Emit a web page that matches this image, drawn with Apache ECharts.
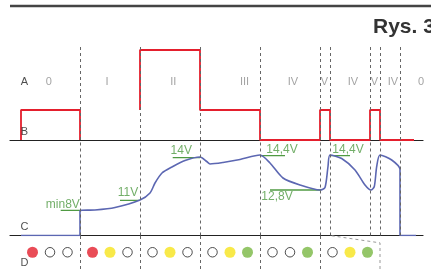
<!DOCTYPE html>
<html>
<head>
<meta charset="utf-8">
<script src="https://cdn.jsdelivr.net/npm/echarts@6/dist/echarts.min.js"></script>
<style>
  html, body { margin: 0; padding: 0; background: #fff; }
  #main { width: 431px; height: 269px; }
</style>
</head>
<body>
<div id="main"></div>
<script>
var chartDom = document.getElementById('main');
var myChart = echarts.init(chartDom);
var option;

// time axis (arbitrary units), phase boundaries and names
var phaseBounds = [60, 120, 180, 240, 300, 310, 350, 360, 380];
var phaseNames = ['0', 'I', 'II', 'III', 'IV', 'V', 'IV', 'V', 'IV', '0'];
var phaseNameX = [28.7, 87, 153.3, 224.5, 273, 304.5, 333, 354.5, 373, 401];

// row B: signal level
var signalB1 = [[1, 0], [1, 1], [60, 1], [60, 0]];
var signalB2 = [[120, 1], [120, 3], [180, 3], [180, 1], [240, 1], [240, 0], [300, 0], [300, 1],
  [310, 1], [310, 0], [350, 0], [350, 1], [360, 1], [360, 0], [394, 0]];

// row C: voltage curve (schematic units)
var voltageC = [[1, 0], [60, 0], [60, 25], [75, 25.5], [95, 28], [120, 35.5], [130, 42.5], [135, 52.5],
  [142, 62.5], [152, 68.5], [165, 75], [180, 78.5], [186.7, 74], [190, 71.5], [203, 73], [220, 76],
  [240, 80.5], [250, 72.5], [263, 57.5], [280, 50.5], [300, 45.5], [305, 48], [308, 69], [310, 80.5],
  [321.7, 77], [335, 65.5], [345, 50.5], [351, 45.5], [354.3, 49], [356.7, 69], [360, 80.5],
  [371.7, 75.5], [380, 66], [380, 0], [396, 0]];

// green reference marks: [from, to, level] and [text, x, y]
var guideLines = [[40.7, 60, 25.2], [100, 120, 35.2], [152.7, 180, 77.8], [240, 265, 79.8], [250, 301, 45.5], [310, 330, 79.8]];
var guideLabels = [['min8V', 42.8, 30.5], ['11V', 108, 42.5], ['14V', 161.3, 85], ['14,4V', 262, 85.5], ['12,8V', 257, 38.8], ['14,4V', 328, 85.5]];

// row D: indicator lamps per group
var groupCenters = [30, 90, 150, 210, 270, 330];
var lampGroups = [['r', 'w', 'w'], ['r', 'y', 'w'], ['w', 'y', 'w'], ['w', 'y', 'g'], ['w', 'w', 'g'], ['w', 'y', 'g']];
var lampColors = { r: '#e41f2d', y: '#f6e31b', g: '#79b843', w: '#ffffff' };

var rowLetters = [['A', 4.5, 1.94, 0], ['B', 4.5, 0.27, 0], ['C', 4.5, 8.5, 1], ['D', 4.5, 0.18, 2]];

var tMin = -10, tMax = 403;
var red = '#e41f2d', blue = '#5c67b2', green = '#4f9a42';
var dash = { type: [3, 3], color: '#666', width: 1 };

function xAx(i, showLine) {
  return {
    gridIndex: i, type: 'value', min: tMin, max: tMax, position: 'bottom',
    axisLine: { show: showLine, onZero: false, lineStyle: { color: '#222', width: 1.2 } },
    axisTick: { show: false }, axisLabel: { show: false }, splitLine: { show: false }
  };
}
function yAx(i, max) {
  return { gridIndex: i, type: 'value', min: 0, max: max, show: false, splitLine: { show: false } };
}
function vlines(list) {
  return {
    symbol: 'none', silent: true, animation: false, label: { show: false },
    lineStyle: dash, data: list.map(function (b) { return { xAxis: b }; })
  };
}
function textSeries(i, data, style) {
  return {
    type: 'scatter', xAxisIndex: i, yAxisIndex: i, symbolSize: 1, silent: true,
    itemStyle: { color: 'rgba(0,0,0,0)' }, z: 5,
    label: Object.assign({ show: true, position: 'inside', formatter: function (p) { return p.data[2]; } }, style),
    data: data
  };
}

var lamps = [];
lampGroups.forEach(function (g, gi) {
  g.forEach(function (c, k) {
    lamps.push({
      value: [groupCenters[gi] + (k - 1) * 17.5, 0.5],
      symbolSize: c === 'w' ? 9.5 : 11,
      itemStyle: c === 'w' ? { color: '#fff', borderColor: '#222', borderWidth: 1 } : { color: lampColors[c] }
    });
  });
});

var series = [
  { type: 'line', xAxisIndex: 0, yAxisIndex: 0, data: [], markLine: vlines(phaseBounds), silent: true },
  { type: 'line', xAxisIndex: 1, yAxisIndex: 1, data: [], markLine: vlines(phaseBounds), silent: true },
  { type: 'line', xAxisIndex: 2, yAxisIndex: 2, data: [], markLine: vlines(phaseBounds.slice(0, 5)), silent: true },
  { type: 'line', xAxisIndex: 2, yAxisIndex: 2, data: [[360, 0], [360, 0.78], [310, 1]], symbol: 'none',
    lineStyle: { type: [3, 3], color: '#999', width: 1 } },
  { type: 'line', xAxisIndex: 0, yAxisIndex: 0, data: signalB1, symbol: 'none', z: 4, lineStyle: { color: red, width: 1.8 } },
  { type: 'line', xAxisIndex: 0, yAxisIndex: 0, data: signalB2, symbol: 'none', z: 4, lineStyle: { color: red, width: 1.8 } },
  { type: 'line', xAxisIndex: 1, yAxisIndex: 1, data: voltageC, symbol: 'none', smooth: 0.25, z: 4,
    lineStyle: { color: blue, width: 1.6 } },
  textSeries(0, phaseNames.map(function (n, i) { return [phaseNameX[i], 1.94, n]; }),
    { color: '#8c8c8c', fontSize: 11, fontFamily: 'Liberation Sans, Arial, sans-serif' }),
  textSeries(1, guideLabels.map(function (g) { return [g[1], g[2], g[0]]; }),
    { color: green, fontSize: 12, fontFamily: 'Liberation Sans Narrow, Arial Narrow, sans-serif' }),
  { type: 'scatter', xAxisIndex: 2, yAxisIndex: 2, data: lamps, silent: true, z: 5 }
];
guideLines.forEach(function (g) {
  series.push({ type: 'line', xAxisIndex: 1, yAxisIndex: 1, data: [[g[0], g[2]], [g[1], g[2]]], symbol: 'none', z: 3,
    lineStyle: { color: green, width: 1.3 } });
});
rowLetters.forEach(function (r) {
  series.push(textSeries(r[3], [[r[1], r[2], r[0]]], { color: '#222', fontSize: 11, fontFamily: 'Liberation Sans, Arial, sans-serif' }));
});

option = {
  animation: false,
  title: {
    text: 'Rys. 3', left: 368, top: 12,
    textStyle: { fontSize: 21, fontWeight: 'bold', color: '#333', fontFamily: 'Liberation Sans, Arial, sans-serif' }
  },
  graphic: [{ type: 'line', shape: { x1: 10, y1: 6, x2: 431, y2: 6 }, style: { stroke: '#444', lineWidth: 2.5 } }],
  grid: [
    { left: 10, right: 8, top: 45, height: 95 },
    { left: 10, right: 8, top: 140, height: 95.5 },
    { left: 10, right: 8, top: 235.5, height: 33.5 }
  ],
  xAxis: [xAx(0, true), xAx(1, true), xAx(2, false)],
  yAxis: [yAx(0, 95 / 30), yAx(1, 95.5), yAx(2, 1)],
  series: series
};

option && myChart.setOption(option);
</script>
</body>
</html>
